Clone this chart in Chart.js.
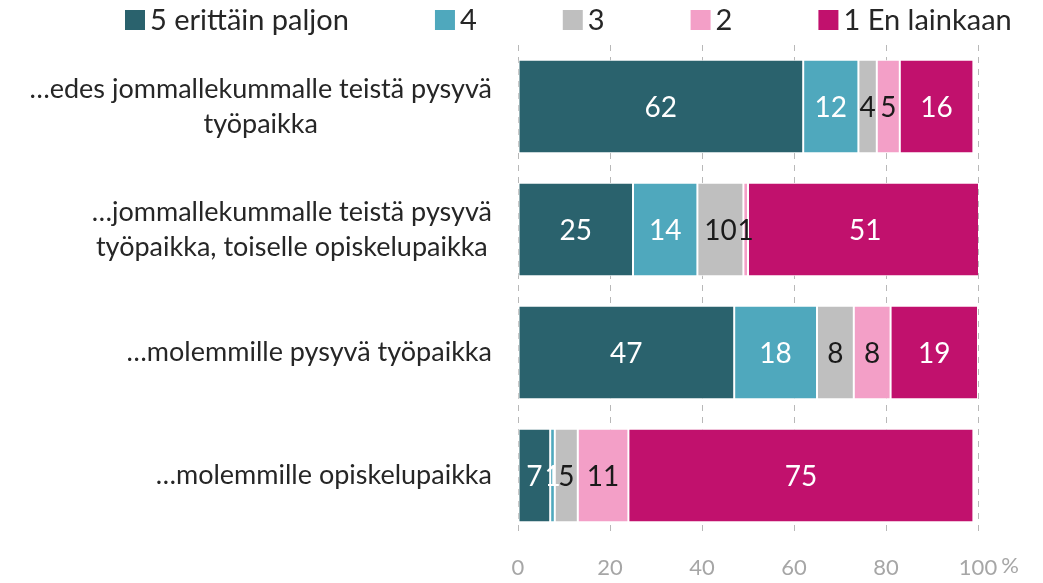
<!DOCTYPE html>
<html lang="fi">
<head>
    <meta charset="UTF-8">
    <title>Pysyvä työpaikka</title>
    <style>
        body {
            margin: 0;
            padding: 0;
            background-color: #ffffff;
        }

        .wrap {
            width: 1043px;
            height: 583px;
        }
    </style>
</head>
<body>
    <div class="wrap">
        <canvas id="myChart" width="1043" height="583"></canvas>
    </div>

    <script src="https://cdn.jsdelivr.net/npm/chart.js"></script>
    <script>
        const categories = [
            ['…edes jommallekummalle teistä pysyvä', 'työpaikka'],
            ['…jommallekummalle teistä pysyvä', 'työpaikka, toiselle opiskelupaikka'],
            ['…molemmille pysyvä työpaikka'],
            ['…molemmille opiskelupaikka']
        ];
        const seriesNames = ['5 erittäin paljon', '4', '3', '2', '1 En lainkaan'];
        const erittainPaljon = [62, 25, 47, 7];
        const nelja = [12, 14, 18, 1];
        const kolme = [4, 10, 8, 5];
        const kaksi = [5, 1, 8, 11];
        const eiLainkaan = [16, 51, 19, 75];
        const xTicks = [0, 20, 40, 60, 80, 100];

        const colors = ['#2a626d', '#4fa8bd', '#bfbfbf', '#f39fc7', '#c1116d'];
        const labelColors = ['#ffffff', '#ffffff', '#1a1a1a', '#1a1a1a', '#ffffff'];
        const FONT = 'Lato, "Noto Sans", sans-serif';

        // value inside each segment
        const valueLabels = {
            id: 'valueLabels',
            afterDatasetsDraw(chart) {
                const ctx = chart.ctx;
                ctx.save();
                ctx.font = '28px ' + FONT;
                ctx.textAlign = 'center';
                ctx.textBaseline = 'middle';
                chart.data.datasets.forEach((ds, i) => {
                    chart.getDatasetMeta(i).data.forEach((bar, j) => {
                        const p = bar.getProps(['x', 'base', 'y'], true);
                        ctx.fillStyle = labelColors[i];
                        ctx.fillText(ds.data[j], (p.x + p.base) / 2, p.y + 1);
                    });
                });
                ctx.restore();
            }
        };

        // category names: block right aligned, lines centred inside the block
        const categoryLabels = {
            id: 'categoryLabels',
            afterDraw(chart) {
                const ctx = chart.ctx;
                const yScale = chart.scales.y;
                const right = chart.chartArea.left - 26;
                const lineH = 35;
                ctx.save();
                ctx.font = '27px ' + FONT;
                ctx.fillStyle = '#262626';
                ctx.textAlign = 'center';
                ctx.textBaseline = 'middle';
                categories.forEach((lines, i) => {
                    const yc = yScale.getPixelForValue(i);
                    const w = Math.max(...lines.map(l => ctx.measureText(l).width));
                    const cx = right - w / 2;
                    const y0 = yc - (lines.length - 1) * lineH / 2;
                    lines.forEach((l, k) => ctx.fillText(l, cx, y0 + k * lineH));
                });
                ctx.restore();
            }
        };

        // legend row across the top
        const topLegend = {
            id: 'topLegend',
            afterDraw(chart) {
                const ctx = chart.ctx;
                const box = 20;
                const gap = 86;
                let x = 125;
                const y = 20;
                ctx.save();
                ctx.font = '29px ' + FONT;
                ctx.textBaseline = 'middle';
                ctx.textAlign = 'left';
                chart.data.datasets.forEach((ds) => {
                    ctx.fillStyle = ds.backgroundColor;
                    ctx.fillRect(x, y - box / 2, box, box);
                    x += box + 5;
                    ctx.fillStyle = '#262626';
                    ctx.fillText(ds.label, x, y + 1);
                    x += ctx.measureText(ds.label).width + gap;
                });
                ctx.restore();
            }
        };

        // percent sign after the last x tick
        const percentSign = {
            id: 'percentSign',
            afterDraw(chart) {
                const ctx = chart.ctx;
                const xs = chart.scales.x;
                ctx.save();
                ctx.font = '22px ' + FONT;
                ctx.fillStyle = '#a6a6a6';
                ctx.textBaseline = 'top';
                ctx.textAlign = 'left';
                const x = xs.getPixelForValue(100) + ctx.measureText('100').width / 2 + 4;
                ctx.fillText('%', x, xs.top + 18);
                ctx.restore();
            }
        };

        const data = {
            labels: categories,
            datasets: [erittainPaljon, nelja, kolme, kaksi, eiLainkaan].map((vals, i) => ({
                label: seriesNames[i],
                data: vals,
                backgroundColor: colors[i],
                borderColor: '#ffffff',
                borderWidth: 1,
                borderSkipped: false,
                barPercentage: 0.76,
                categoryPercentage: 1
            }))
        };

        const options = {
            indexAxis: 'y',
            responsive: false,
            animation: false,
            layout: {
                padding: { top: 45, left: 518, right: 65, bottom: 0 }
            },
            plugins: {
                legend: { display: false },
                tooltip: { enabled: false }
            },
            scales: {
                x: {
                    stacked: true,
                    min: 0,
                    max: 100,
                    afterBuildTicks: (scale) => {
                        scale.ticks = xTicks.map(v => ({ value: v }));
                    },
                    afterFit: (scale) => {
                        scale.height = 46;
                    },
                    grid: {
                        color: '#b8b8b8',
                        lineWidth: 1,
                        drawTicks: false
                    },
                    border: { display: false, dash: [6, 6] },
                    ticks: {
                        padding: 18,
                        color: '#a6a6a6',
                        font: { family: FONT, size: 22 }
                    }
                },
                y: {
                    stacked: true,
                    display: false
                }
            }
        };

        new Chart(document.getElementById('myChart').getContext('2d'), {
            type: 'bar',
            data: data,
            options: options,
            plugins: [valueLabels, categoryLabels, topLegend, percentSign]
        });
    </script>
</body>
</html>
